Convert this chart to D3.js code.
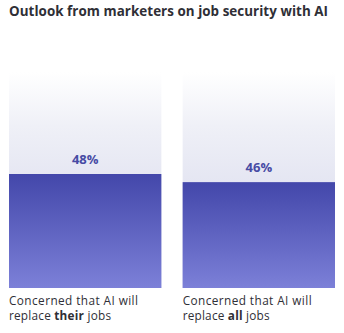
<!DOCTYPE html>
<html>
<head>
<meta charset="utf-8">
<script src="https://cdn.jsdelivr.net/npm/d3@7"></script>
<style>
  html, body { margin: 0; padding: 0; background: #ffffff; }
  svg { display: block; }
</style>
</head>
<body>
<div id="chart"></div>
<script>
const title = "Outlook from marketers on job security with AI";
const categories = ["their", "all"];
const labelPrefix = ["Concerned that AI will", "Concerned that AI will"];
const labelLine2Before = ["replace ", "replace "];
const labelBold = ["their", "all"];
const labelLine2After = [" jobs", " jobs"];
const values = [48, 46];

const W = 344, H = 333;
const FONT = "'Open Sans', 'Noto Sans', sans-serif";
const svg = d3.select("#chart").append("svg").attr("width", W).attr("height", H);
const defs = svg.append("defs");

const bgGrad = defs.append("linearGradient").attr("id", "bgGrad")
  .attr("x1", 0).attr("y1", 0).attr("x2", 0).attr("y2", 1);
bgGrad.append("stop").attr("offset", "0%").attr("stop-color", "#ffffff");
bgGrad.append("stop").attr("offset", "25%").attr("stop-color", "#eff0f7");
bgGrad.append("stop").attr("offset", "100%").attr("stop-color", "#d1d3ea");

const barGrad = defs.append("linearGradient").attr("id", "barGrad")
  .attr("x1", 0).attr("y1", 0).attr("x2", 0).attr("y2", 1);
barGrad.append("stop").attr("offset", "0%").attr("stop-color", "#4347aa");
barGrad.append("stop").attr("offset", "100%").attr("stop-color", "#7c80d8");

const x = d3.scaleBand().domain(categories).range([9, 335]).paddingInner(0.1226).paddingOuter(0);
const y = d3.scaleLinear().domain([20, 48]).range([288, 174]);
const panelTop = 72, baseY = 288;

svg.append("text")
  .attr("x", 9).attr("y", 16)
  .attr("font-family", FONT)
  .attr("font-weight", 700)
  .attr("font-size", 13.4)
  .attr("fill", "#2f2f36")
  .attr("textLength", 319).attr("lengthAdjust", "spacing")
  .text(title);

const g = svg.append("g");
g.selectAll("rect.bg").data(categories).join("rect")
  .attr("class", "bg")
  .attr("x", d => x(d)).attr("y", panelTop)
  .attr("width", x.bandwidth()).attr("height", baseY - panelTop)
  .attr("fill", "url(#bgGrad)");

g.selectAll("rect.bar").data(values).join("rect")
  .attr("class", "bar")
  .attr("x", (d, i) => x(categories[i])).attr("y", d => y(d))
  .attr("width", x.bandwidth()).attr("height", d => baseY - y(d))
  .attr("fill", "url(#barGrad)");

g.selectAll("text.val").data(values).join("text")
  .attr("class", "val")
  .attr("x", (d, i) => x(categories[i]) + x.bandwidth() / 2)
  .attr("y", d => y(d) - 10.5)
  .attr("text-anchor", "middle")
  .attr("font-family", FONT)
  .attr("font-weight", 700)
  .attr("font-size", 13)
  .attr("fill", "#474ba4")
  .text(d => d + "%");

const line2Len = [102, 87];
categories.forEach((c, i) => {
  const lx = x(c);
  svg.append("text")
    .attr("x", lx).attr("y", 304.5)
    .attr("font-family", FONT)
    .attr("font-size", 11.8)
    .attr("fill", "#2f2f36")
    .attr("textLength", 129).attr("lengthAdjust", "spacing")
    .text(labelPrefix[i]);
  const t = svg.append("text")
    .attr("x", lx).attr("y", 319.5)
    .attr("font-family", FONT)
    .attr("font-size", 11.8)
    .attr("fill", "#2f2f36")
    .attr("textLength", line2Len[i]).attr("lengthAdjust", "spacing");
  t.append("tspan").text(labelLine2Before[i]);
  t.append("tspan").attr("font-weight", 700).text(labelBold[i]);
  t.append("tspan").text(labelLine2After[i]);
});
</script>
</body>
</html>
